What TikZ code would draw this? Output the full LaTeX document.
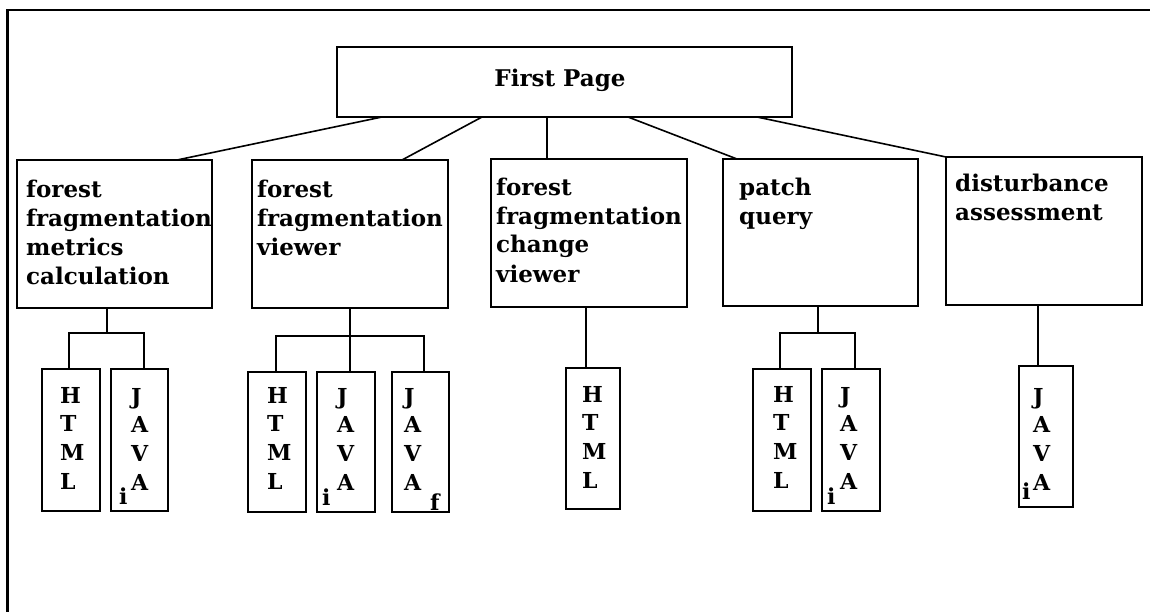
\documentclass[tikz,border=0pt]{standalone}
\usepackage{fontspec}
\setmainfont{DejaVu Serif}
\begin{document}
\begin{tikzpicture}[x=1pt,y=-1pt,
  box/.style={draw, line width=1.6pt, outer sep=0pt, inner sep=0pt},
  lbl/.style={font=\bfseries\fontsize{23}{29}\selectfont, align=left, anchor=base west, inner sep=0pt},
  col/.style={font=\bfseries\fontsize{22}{28.8}\selectfont, align=left, anchor=base west, inner sep=0pt},
  sub/.style={font=\bfseries\fontsize{22}{26}\selectfont, anchor=base west, inner sep=0pt},
  wire/.style={line width=1.6pt},
  frame/.style={line width=2.4pt}]
\useasboundingbox (0,0) rectangle (1150,612);
% outer frame
\coordinate (fbl) at (7.5,612);
\coordinate (ftl) at (7.5,10);
\coordinate (ftr) at (1150,10);
\draw[frame] (fbl) -- (ftl) -- (ftr);

% top box
\node[box, minimum width=455pt, minimum height=70pt] (fp) at (564.5,82) {};
\node[font=\bfseries\fontsize{23}{29}\selectfont, inner sep=0pt, anchor=base] (fpt) at (560,87) {First Page};

% second level boxes
\node[box, minimum width=195pt, minimum height=148pt] (b1) at (114.5,234) {};
\node[box, minimum width=196pt, minimum height=148pt] (b2) at (350,234) {};
\node[box, minimum width=196pt, minimum height=148pt] (b3) at (589,233) {};
\node[box, minimum width=195pt, minimum height=147pt] (b4) at (820.5,232.5) {};
\node[box, minimum width=196pt, minimum height=148pt] (b5) at (1044,231) {};

% anchor base = baseline of the last line
\node[lbl] (t1) at (26,284) {forest\\fragmentation\\metrics\\calculation};
\node[lbl] (t2) at (257,255) {forest\\fragmentation\\viewer};
\node[lbl] (t3) at (496,282) {forest\\fragmentation\\change\\viewer};
\node[lbl] (t4) at (739,225) {patch\\query};
\node[lbl] (t5) at (955,221) {disturbance\\assessment};

% leaf boxes
\node[box, minimum width=58pt, minimum height=142pt] (h1) at (71,440) {};
\node[box, minimum width=57pt, minimum height=142pt] (j1) at (139.5,440) {};
\node[box, minimum width=58pt, minimum height=140pt] (h2) at (277,442) {};
\node[box, minimum width=58pt, minimum height=140pt] (j2) at (346,442) {};
\node[box, minimum width=57pt, minimum height=140pt] (f2) at (420.5,442) {};
\node[box, minimum width=54pt, minimum height=141pt] (h3) at (593,438.5) {};
\node[box, minimum width=58pt, minimum height=142pt] (h4) at (782,440) {};
\node[box, minimum width=58pt, minimum height=142pt] (j4) at (851,440) {};
\node[box, minimum width=54pt, minimum height=141pt] (j5) at (1046,436.5) {};

\node[col] (h1t) at (60,489.4) {H\\T\\M\\L};
\node[col] (j1t) at (131,490.4) {J\\A\\V\\A};
\node[sub] (j1s) at (119,504) {i};
\node[col] (h2t) at (267,489.4) {H\\T\\M\\L};
\node[col] (j2t) at (337,490.4) {J\\A\\V\\A};
\node[sub] (j2s) at (322,505) {i};
\node[col] (f2t) at (404,490.4) {J\\A\\V\\A};
\node[sub] (f2s) at (430,510) {f};
\node[col] (h3t) at (582,488.4) {H\\T\\M\\L};
\node[col] (h4t) at (773,488.4) {H\\T\\M\\L};
\node[col] (j4t) at (840,489.4) {J\\A\\V\\A};
\node[sub] (j4s) at (827,504) {i};
\node[col] (j5t) at (1033,490.4) {J\\A\\V\\A};
\node[sub] (j5s) at (1022,499) {i};

% connectors from top box
\draw[wire] (fp.south -| 382,0) -- (b1.north -| 177,0);
\draw[wire] (fp.south -| 482,0) -- (b2.north -| 402,0);
\draw[wire] (fp.south -| 547,0) -- (b3.north -| 547,0);
\draw[wire] (fp.south -| 628,0) -- (b4.north -| 737,0);
\draw[wire] (fp.south -| 757,0) -- (b5.north -| 946,0);

% connectors to leaves
\draw[wire] (b1.south -| 107,0) -- (107,333);
\draw[wire] (h1.north -| 69,0) -- (69,333) -- (144,333) -- (j1.north -| 144,0);

\draw[wire] (b2.south -| 350,0) -- (j2.north -| 350,0);
\draw[wire] (h2.north -| 276,0) -- (276,336) -- (424,336) -- (f2.north -| 424,0);

\draw[wire] (b3.south -| 586,0) -- (h3.north -| 586,0);

\draw[wire] (b4.south -| 818,0) -- (818,333);
\draw[wire] (h4.north -| 780,0) -- (780,333) -- (855,333) -- (j4.north -| 855,0);

\draw[wire] (b5.south -| 1038,0) -- (j5.north -| 1038,0);
\end{tikzpicture}
\end{document}
